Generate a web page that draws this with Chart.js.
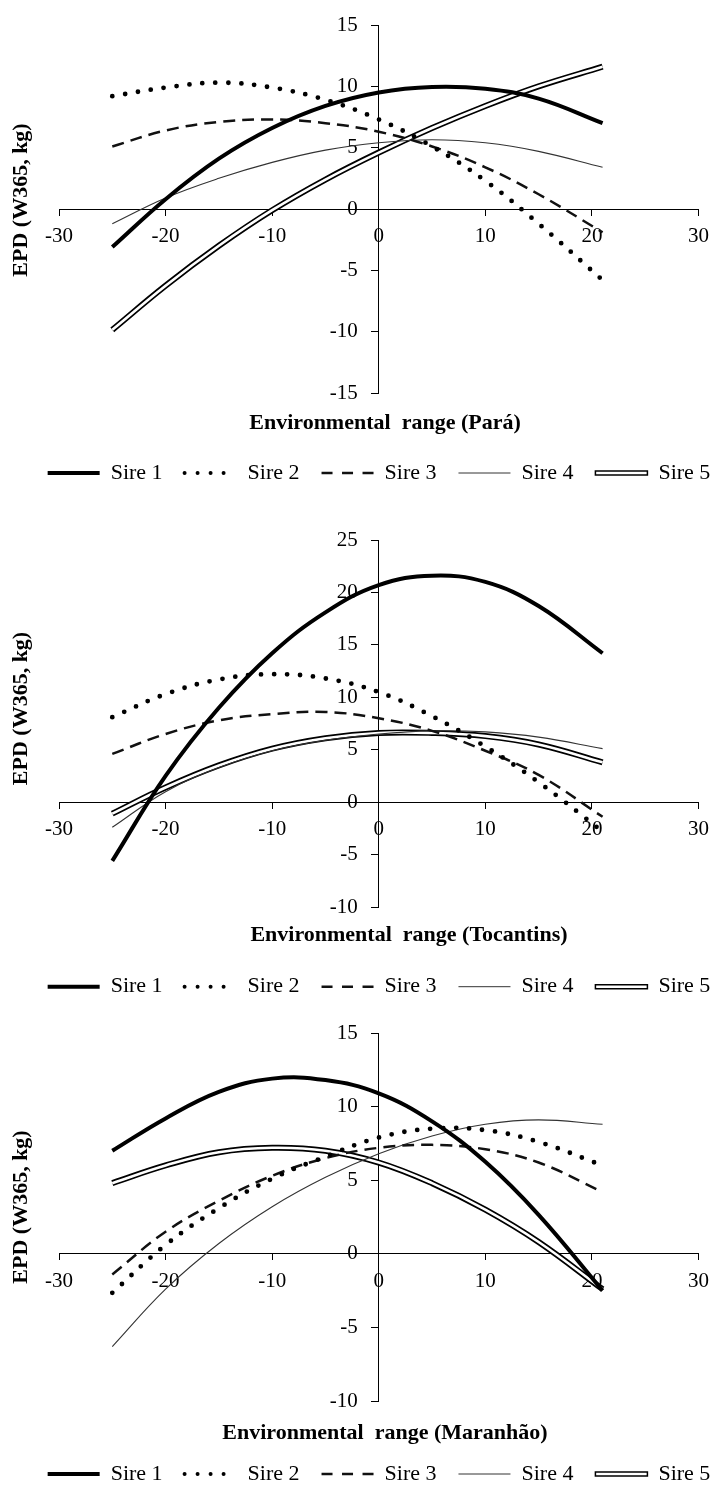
<!DOCTYPE html>
<html>
<head>
<meta charset="utf-8">
<script src="https://cdn.jsdelivr.net/npm/chart.js@4.4.1/dist/chart.umd.min.js"></script>
<style>
html, body { margin: 0; padding: 0; background: #fff; overflow: hidden; width: 718px; height: 1493px; }
canvas { position: absolute; left: 0; }
</style>
</head>
<body>
<canvas id="c1" width="718" height="500" style="top:0px"></canvas>
<canvas id="c2" width="718" height="505" style="top:505px"></canvas>
<canvas id="c3" width="718" height="490" style="top:1010px"></canvas>
<script>
// ---------- data ----------
const xValues = [-25, -20, -15, -10, -5, 0, 5, 10, 15, 21];
const seriesNames = ['Sire 1', 'Sire 2', 'Sire 3', 'Sire 4', 'Sire 5'];
const xTicks = [-30, -20, -10, 0, 10, 20, 30];

const paraSire1 = [-3.1, 0.8, 4.1, 6.6, 8.4, 9.5, 9.95, 9.8, 9.0, 7.0];
const paraSire2 = [9.2, 9.9, 10.3, 9.9, 8.9, 7.3, 5.1, 2.3, -1.2, -5.8];
const paraSire3 = [5.1, 6.4, 7.1, 7.3, 7.0, 6.3, 5.1, 3.4, 1.2, -1.9];
const paraSire4 = [-1.2, 0.9, 2.5, 3.8, 4.8, 5.4, 5.65, 5.4, 4.7, 3.4];
const paraSire5 = [-9.85, -6.25, -3.0, -0.1, 2.4, 4.6, 6.6, 8.4, 10.0, 11.6];
const paraYTicks = [-15, -10, -5, 0, 5, 10, 15];

const tocSire1 = [-5.6, 2.5, 9.0, 14.2, 18.1, 20.7, 21.6, 21.0, 18.7, 14.2];
const tocSire2 = [8.1, 10.3, 11.7, 12.2, 11.8, 10.5, 8.2, 5.3, 1.9, -2.8];
const tocSire3 = [4.6, 6.5, 7.8, 8.4, 8.6, 8.0, 6.8, 4.9, 2.6, -1.4];
const tocSire4 = [-2.4, 1.0, 3.3, 4.9, 5.9, 6.5, 6.8, 6.7, 6.2, 5.1];
const tocSire5 = [-1.1, 1.4, 3.5, 5.1, 6.1, 6.6, 6.6, 6.3, 5.5, 3.8];
const tocYTicks = [-10, -5, 0, 5, 10, 15, 20, 25];

const maSire1 = [7.0, 9.2, 11.0, 11.9, 11.8, 10.9, 9.0, 6.25, 2.65, -2.5];
const maSire2 = [-2.65, 0.6, 3.1, 5.1, 6.6, 7.9, 8.5, 8.4, 7.6, 6.0];
const maSire3 = [-1.4, 1.5, 3.6, 5.3, 6.5, 7.2, 7.4, 7.1, 6.2, 4.2];
const maSire4 = [-6.3, -2.4, 0.7, 3.2, 5.2, 6.8, 8.0, 8.8, 9.1, 8.8];
const maSire5 = [4.8, 6.0, 6.9, 7.2, 7.0, 6.2, 4.8, 3.0, 0.8, -2.4];
const maYTicks = [-10, -5, 0, 5, 10, 15];

const xTitles = ['Environmental  range (Pará)', 'Environmental  range (Tocantins)', 'Environmental  range (Maranhão)'];
const yTitle = 'EPD (W365, kg)';

// ---------- styles ----------
const FONT = 'Liberation Serif';
const lineStyles = [
  { borderColor: '#000', borderWidth: 4 },
  { borderColor: '#000', borderWidth: 4.8, borderDash: [0, 13], borderCapStyle: 'round' },
  { borderColor: '#111', borderWidth: 2.5, borderDash: [12, 7] },
  { borderColor: '#333', borderWidth: 1.1 },
  { borderColor: '#000', borderWidth: 6 }
];
const legendStyles = [
  { pointStyle: 'line', strokeStyle: '#000', fillStyle: 'rgba(0,0,0,0)', lineWidth: 4 },
  { pointStyle: 'line', strokeStyle: '#000', fillStyle: 'rgba(0,0,0,0)', lineWidth: 4, lineDash: [0, 13], lineCap: 'round' },
  { pointStyle: 'line', strokeStyle: '#111', fillStyle: 'rgba(0,0,0,0)', lineWidth: 2.5, lineDash: [11, 9.5] },
  { pointStyle: 'line', strokeStyle: '#333', fillStyle: 'rgba(0,0,0,0)', lineWidth: 1 },
  { pointStyle: 'rect', strokeStyle: '#000', fillStyle: '#fff', lineWidth: 1.5 }
];

// linear scale whose tick labels can be moved sideways (used for the crossing y axis)
class ShiftedLinearScale extends Chart.LinearScale {
  _computeLabelItems(chartArea) {
    const items = super._computeLabelItems(chartArea);
    const dx = this.options.labelShiftX || 0;
    items.forEach(it => { it.options.translation[0] -= dx; });
    return items;
  }
}
ShiftedLinearScale.id = 'shiftedLinear';
ShiftedLinearScale.defaults = Chart.LinearScale.defaults;
Chart.register(ShiftedLinearScale);

const blockShift = {
  id: 'blockShift',
  afterLayout(chart, args, opts) {
    const t = chart.titleBlock, l = chart.legend;
    if (t && opts.titleDx) { t.left += opts.titleDx; t.right += opts.titleDx; }
    if (l && opts.legendDx) { l.left += opts.legendDx; l.right += opts.legendDx; }
  }
};
const yTitlePlugin = {
  id: 'yTitlePlugin',
  afterDraw(chart, args, opts) {
    const ctx = chart.ctx, a = chart.chartArea;
    ctx.save();
    ctx.translate(opts.x, (a.top + a.bottom) / 2 + opts.dy);
    ctx.rotate(-Math.PI / 2);
    ctx.font = 'bold 22px "' + FONT + '"';
    ctx.fillStyle = '#000';
    ctx.textAlign = 'center';
    ctx.textBaseline = 'middle';
    ctx.fillText(opts.text, 0, 0);
    ctx.restore();
  }
};

function buildChart(id, series, yTicks, xTitle, lay) {
  const pts = vals => xValues.map((x, i) => ({ x: x, y: vals[i] }));
  const datasets = [];
  series.forEach((vals, i) => {
    datasets.push(Object.assign({ label: seriesNames[i], data: pts(vals), pointRadius: 0, tension: 0.4, fill: false, yAxisID: 'y', xAxisID: 'x' }, lineStyles[i]));
  });
  // white core of the double line (Sire 5), drawn over its black outline
  datasets.splice(4, 0, { label: 'Sire 5 core', data: pts(series[4]), pointRadius: 0, tension: 0.4, fill: false, yAxisID: 'y', xAxisID: 'x', borderColor: '#fff', borderWidth: 2.6 });

  const tickFont = { family: FONT, size: 21 };
  const spacer = w => ({
    type: 'linear', display: true,
    grid: { display: false }, border: { display: false }, ticks: { display: false },
    afterFit: s => { s.width = w; }
  });
  new Chart(document.getElementById(id), {
    type: 'line',
    data: { datasets: datasets },
    options: {
      responsive: false,
      animation: false,
      devicePixelRatio: 1,
      layout: { padding: { left: 0, right: 0, top: lay.top, bottom: lay.bottom } },
      scales: {
        x: {
          type: 'linear',
          min: xTicks[0], max: xTicks[xTicks.length - 1],
          position: { y: 0 },
          afterBuildTicks: s => { s.ticks = xTicks.map(v => ({ value: v })); },
          border: { display: true, color: '#000', width: 1 },
          grid: { drawOnChartArea: false, drawTicks: true, color: '#000', lineWidth: 1, tickLength: 6 },
          ticks: { color: '#000', font: tickFont, autoSkip: false, maxRotation: 0, padding: 9 }
        },
        y: {
          type: 'shiftedLinear',
          labelShiftX: 21,
          min: yTicks[0], max: yTicks[yTicks.length - 1],
          position: { x: 0 },
          afterBuildTicks: s => { s.ticks = yTicks.map(v => ({ value: v })); },
          border: { display: true, color: '#000', width: 1 },
          grid: { drawOnChartArea: false, drawTicks: true, color: '#000', lineWidth: 1, tickLength: 7 },
          ticks: { color: '#000', font: tickFont, autoSkip: false }
        },
        padLeft: Object.assign({ position: 'left' }, spacer(59)),
        padRight: Object.assign({ position: 'right' }, spacer(11))
      },
      plugins: {
        tooltip: { enabled: false },
        title: {
          display: true, text: xTitle, position: 'bottom', color: '#000',
          font: { family: FONT, size: 22, weight: 'bold' },
          padding: { top: lay.tTop, bottom: lay.tBottom }
        },
        legend: {
          display: true, position: 'bottom', weight: 3000,
          labels: {
            usePointStyle: true, pointStyleWidth: 52, boxHeight: 4, padding: 22,
            color: '#000', font: { family: FONT, size: 22 },
            generateLabels: () => seriesNames.map((name, i) => Object.assign({ text: name, hidden: false, datasetIndex: i, fontColor: '#000' }, legendStyles[i]))
          }
        },
        blockShift: { titleDx: lay.dx, legendDx: 20 },
        yTitlePlugin: { text: yTitle, x: 21, dy: lay.yDy }
      }
    },
    plugins: [blockShift, yTitlePlugin]
  });
}

buildChart('c1', [paraSire1, paraSire2, paraSire3, paraSire4, paraSire5], paraYTicks, xTitles[0],
  { top: 25, bottom: 6, tTop: 16.8, tBottom: 3.8, dx: 26, yDy: -9 });
buildChart('c2', [tocSire1, tocSire2, tocSire3, tocSire4, tocSire5], tocYTicks, xTitles[1],
  { top: 35, bottom: 2.3, tTop: 14.8, tBottom: 5.5, dx: 50, yDy: -15 });
buildChart('c3', [maSire1, maSire2, maSire3, maSire4, maSire5], maYTicks, xTitles[2],
  { top: 23, bottom: 5, tTop: 18.8, tBottom: -5.2, dx: 26, yDy: -10 });
</script>
</body>
</html>
